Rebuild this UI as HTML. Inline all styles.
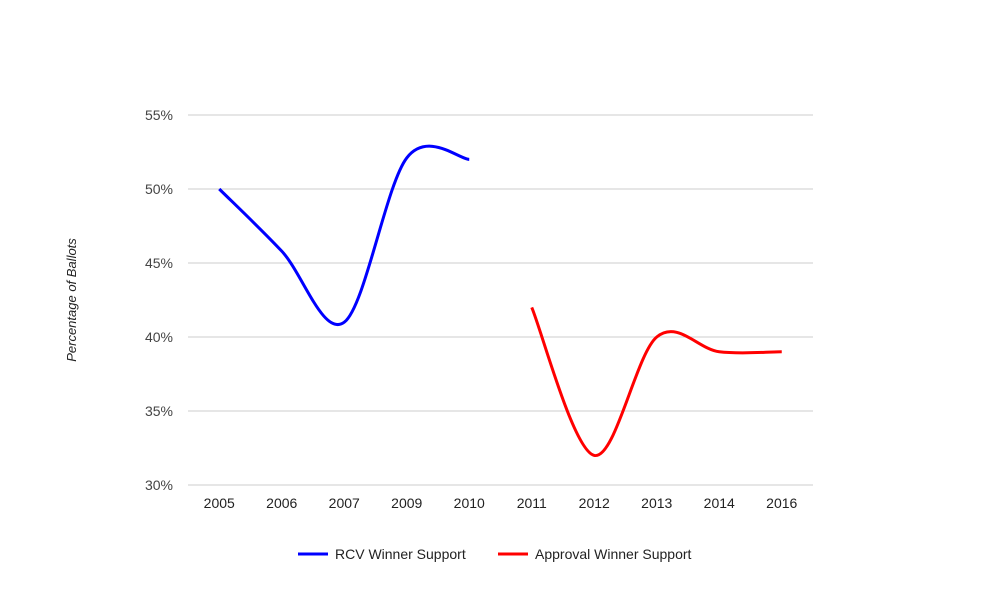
<!DOCTYPE html>
<html><head><meta charset="utf-8"><style>
body{margin:0;background:#fff;}
svg text{font-family:"Liberation Sans",Arial,sans-serif;}
</style></head><body>
<svg id="chart" width="1000" height="600" xmlns="http://www.w3.org/2000/svg">
<g id="grid"></g>
<g id="yticks"></g>
<g id="xticks"></g>
<g id="series"></g>
<text x="0" y="0" transform="translate(76,300) rotate(-90)" text-anchor="middle" font-size="13" font-style="italic" fill="#222">Percentage of Ballots</text>
<g>
<g>
<line x1="298" y1="554" x2="328" y2="554" stroke="#0000ff" stroke-width="3"/>
<text x="335" y="559" font-size="14" fill="#222">RCV Winner Support</text></g>
<g>
<line x1="498" y1="554" x2="528" y2="554" stroke="#ff0000" stroke-width="3"/>
<text x="535" y="559" font-size="14" fill="#222">Approval Winner Support</text></g>
</g>
</svg>
<script>
const categories=["2005","2006","2007","2009","2010","2011","2012","2013","2014","2016"];
const rcvValues=[50,45.8,41,52.1,52,null,null,null,null,null];
const approvalValues=[null,null,null,null,null,42,32,40,39,39];
const yTicks=[30,35,40,45,50,55];
const yTickLabels=["30%","35%","40%","45%","50%","55%"];
const NS="http://www.w3.org/2000/svg";
const plotLeft=188,plotRight=813,plotTop=115,plotBottom=485,yMin=30,yMax=55;
const xs=i=>plotLeft+(plotRight-plotLeft)/categories.length*(i+0.5);
const ys=v=>plotBottom-(v-yMin)/(yMax-yMin)*(plotBottom-plotTop);
function mk(tag,attrs,parent){const e=document.createElementNS(NS,tag);for(const k in attrs)e.setAttribute(k,attrs[k]);parent.appendChild(e);return e;}
const gridG=document.getElementById('grid'),ytG=document.getElementById('yticks'),xtG=document.getElementById('xticks'),serG=document.getElementById('series');
yTicks.forEach((v,i)=>{
 const l=mk('line',{x1:plotLeft,x2:plotRight,y1:ys(v),y2:ys(v),stroke:'#ccc','stroke-width':1},gridG);
 
 
 const t=mk('text',{x:173,y:ys(v)+5,'text-anchor':'end','font-size':14,fill:'#444'},ytG);
 t.textContent=yTickLabels[i];
 
 
});
categories.forEach((c,i)=>{
 const t=mk('text',{x:xs(i),y:508,'text-anchor':'middle','font-size':14,fill:'#222'},xtG);
 t.textContent=c;
 
 
});
function pathFor(vals){
 const p=[];vals.forEach((v,i)=>{if(v!==null)p.push([xs(i),ys(v)]);});
 let d='M'+p[0][0]+','+p[0][1];const k=1/6;
 for(let i=0;i<p.length-1;i++){
  const p0=p[Math.max(0,i-1)],p1=p[i],p2=p[i+1],p3=p[Math.min(p.length-1,i+2)];
  const c1=[p1[0]+(p2[0]-p0[0])*k,p1[1]+(p2[1]-p0[1])*k];
  const c2=[p2[0]-(p3[0]-p1[0])*k,p2[1]-(p3[1]-p1[1])*k];
  d+=' C'+c1+' '+c2+' '+p2;
 }
 return d;
}
const rcvPath=mk('path',{d:pathFor(rcvValues),fill:'none',stroke:'#0000ff','stroke-width':3},serG);


const apprPath=mk('path',{d:pathFor(approvalValues),fill:'none',stroke:'#ff0000','stroke-width':3},serG);


</script>
</body></html>
